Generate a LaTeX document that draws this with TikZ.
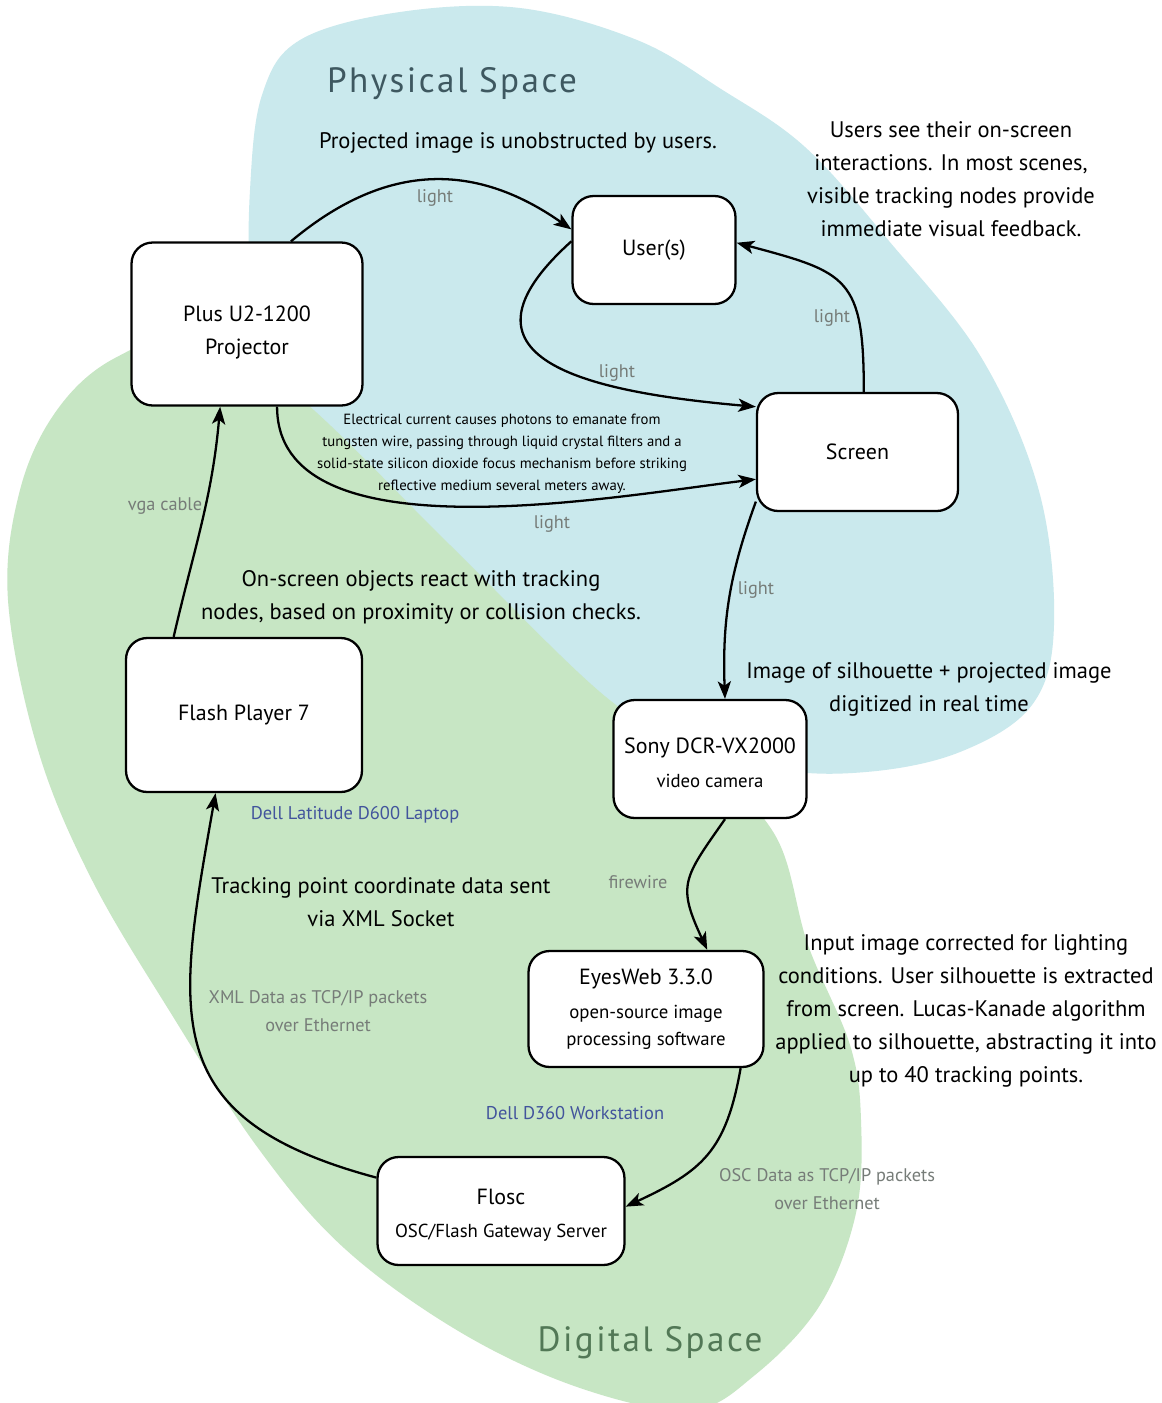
\documentclass[tikz,border=0pt]{standalone}
\usepackage{fontspec}
\setmainfont{PT Sans}
\newfontfamily\spacefont[LetterSpace=7]{PT Sans}
\usetikzlibrary{arrows.meta}
\definecolor{physfill}{RGB}{202,233,237}
\definecolor{digifill}{RGB}{199,230,196}
\definecolor{phystext}{RGB}{62,88,96}
\definecolor{digitext}{RGB}{82,120,86}
\definecolor{hostblue}{RGB}{66,84,156}
\definecolor{linkgray}{RGB}{118,124,120}
\newcommand{\subsize}{\fontsize{10.7}{15}\selectfont}
\newcommand{\lift}[1]{\rule{0pt}{#1}}
\begin{document}
\begin{tikzpicture}[x=0.02cm, y=-0.02cm,
    box/.style={draw, line width=1.3pt, rounded corners=12pt, fill=white, align=center, inner sep=0pt,
      font=\fontsize{12.5}{18.7}\selectfont},
    note/.style={align=center, text=black, font=\fontsize{12.8}{18.7}\selectfont},
    tinynote/.style={align=center, text=black, font=\fontsize{8.4}{12.5}\selectfont},
    link/.style={align=center, text=linkgray, font=\fontsize{10.4}{15.9}\selectfont},
    host/.style={text=hostblue, font=\fontsize{10.5}{15}\selectfont},
    spacename/.style={font=\spacefont\fontsize{20}{24}\selectfont},
    flow/.style={-{Stealth[length=10pt, width=7.5pt, inset=2.5pt]}, line width=1.3pt}]

  \fill[white] (0,0) rectangle (1161,1403);
  \useasboundingbox (0,0) rectangle (1161,1403);

  \fill[physfill] plot[smooth cycle, tension=0.6] coordinates {
    (262,420) (250,300) (250,190) (262,95) (300,40) (400,12) (520,8) (637,40)
    (721,89) (805,147) (889,241) (981,357) (1039,491) (1054,625) (1032,705)
    (960,752) (866,772) (770,768) (640,730) (520,640) (380,520)};
  \fill[digifill] plot[smooth cycle, tension=0.6] coordinates {
    (200,335) (300,398) (450,545) (600,692) (700,760) (775,835) (808,945)
    (850,1045) (861,1120) (856,1213) (820,1305) (755,1375) (690,1410)
    (580,1388) (460,1332) (344,1248) (258,1148) (172,1015) (92,880)
    (38,750) (8,600) (20,490) (57,410) (115,358)};

  \node[spacename, text=phystext] (physname) at (452,84) {Physical Space};
  \node[spacename, text=digitext] (diginame) at (650,1343) {Digital Space};

  \node[box, minimum width=4.62cm, minimum height=3.26cm] (proj) at (247,324) {\lift{18.3pt}Plus U2-1200\\Projector};
  \node[box, minimum width=3.26cm, minimum height=2.16cm] (users) at (654,250) {User(s)};
  \node[box, minimum width=4.02cm, minimum height=2.36cm] (screen) at (857.5,452) {Screen};
  \node[box, minimum width=4.72cm, minimum height=3.08cm] (flash) at (244,715) {Flash Player 7};
  \node[box, minimum width=3.86cm, minimum height=2.36cm] (sony) at (710,759)
    {\lift{13pt}Sony DCR-VX2000\\[0.6pt]{\subsize video camera}};
  \node[box, minimum width=4.70cm, minimum height=2.32cm] (eyes) at (646,1009)
    {EyesWeb 3.3.0\\[1pt]{\subsize open-source image}\\[-3.4pt]{\subsize processing software}};
  \node[box, minimum width=4.94cm, minimum height=2.16cm] (flosc) at (501,1211)
    {\lift{13.5pt}Flosc\\{\subsize OSC/Flash Gateway Server}};

  \node[note] (unobstructed) at (518,143) {Projected image is unobstructed by users.};
  \node[note] (feedback) at (951,179) {Users see their on-screen\\interactions. In most scenes,\\visible tracking nodes provide\\immediate visual feedback.};
  \node[tinynote] (photons) at (502,454) {Electrical current causes photons to emanate from\\tungsten wire, passing through liquid crystal filters and a\\solid-state silicon dioxide focus mechanism before striking\\reflective medium several meters away.};
  \node[note] (collide) at (421,597) {On-screen objects react with tracking\\nodes, based on proximity or collision checks.};
  \node[note] (digitize) at (929,689) {Image of silhouette + projected image\\digitized in real time};
  \node[note] (socket) at (381,902) {Tracking point coordinate data sent\\via XML Socket};
  \node[note] (extract) at (966,1011) {Input image corrected for lighting\\conditions. User silhouette is extracted\\from screen. Lucas-Kanade algorithm\\applied to silhouette, abstracting it into\\up to 40 tracking points.};

  \node[host] (laptop) at (355,815) {Dell Latitude D600 Laptop};
  \node[host] (workstation) at (575,1113) {Dell D360 Workstation};

  \node[link] (lightA) at (435,198) {light};
  \node[link] (lightB) at (617,373) {light};
  \node[link] (lightC) at (832,318) {light};
  \node[link] (lightD) at (552,524) {light};
  \node[link] (lightE) at (756,590) {light};
  \node[link] (vga) at (165,506) {vga cable};
  \node[link] (fire) at (638,882) {firewire};
  \node[link] (xmldata) at (318,1011) {XML Data as TCP/IP packets\\over Ethernet};
  \node[link] (oscdata) at (827,1189) {OSC Data as TCP/IP packets\\over Ethernet};

  \draw[flow] (proj.62) to[out=40, in=145, looseness=1.1] (users.166);
  \draw[flow] (users.174) to[out=222, in=175, looseness=1.8] (screen.156);
  \draw[flow] (screen.84) to[out=90, in=-15, looseness=1.5] (users.5);
  \draw[flow] (proj.-70) to[out=-90, in=187, looseness=0.8] (screen.195);
  \draw[flow] (screen.206) to[out=-110, in=92] (sony.76);
  \draw[flow] (flash.132) to[out=77, in=-95] (proj.252);
  \draw[flow] (sony.-76) to[out=-125, in=115, looseness=1.4] (eyes.44);
  \draw[flow] (eyes.-32) to[out=-100, in=25, looseness=1.2] (flosc.2);
  \draw[flow] (flosc.165) to[out=165, in=-100, looseness=1.4] (flash.250);
\end{tikzpicture}
\end{document}
